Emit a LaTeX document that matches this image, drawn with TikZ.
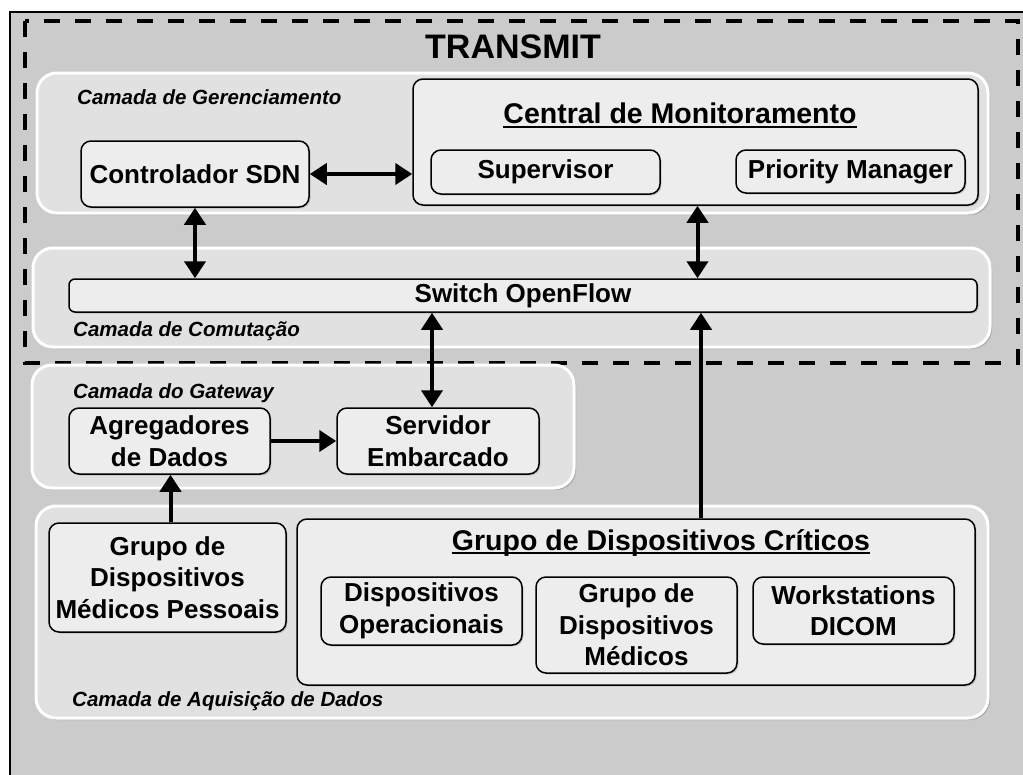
\documentclass[tikz,border=0pt]{standalone}
\usepackage{fontspec}
\setmainfont{Liberation Sans}
\usetikzlibrary{arrows.meta,shadows,calc}
\definecolor{bgc}{HTML}{CBCBCB}
\definecolor{layc}{HTML}{E1E1E1}
\definecolor{boxc}{HTML}{EDEDED}
\newcommand\bxf{\fontsize{26}{31.5}\selectfont\bfseries}
\newcommand\ttlf{\fontsize{28.5}{33}\selectfont\bfseries}
\newcommand\layf{\fontsize{20.5}{24}\selectfont\bfseries\itshape}
\begin{document}
\begin{tikzpicture}[x=1pt,y=-1pt,
  layer/.style={draw=white,line width=3pt,fill=layc,rounded corners=20pt,inner sep=0pt,
    drop shadow={shadow xshift=2pt,shadow yshift=-2pt,opacity=0.35,fill=black!60}},
  box/.style={draw=black,line width=1.5pt,fill=boxc,rounded corners=10pt,inner sep=0pt,
    align=center,font=\bxf,
    drop shadow={shadow xshift=1.5pt,shadow yshift=-1.5pt,opacity=0.25,fill=black!60}},
  laylabel/.style={anchor=west,inner sep=0pt,font=\layf},
  ttl/.style={inner sep=0pt,font=\ttlf,anchor=base},
  biarr/.style={line width=4pt,{Triangle[length=17pt,width=21pt]}-{Triangle[length=17pt,width=21pt]}},
  onearr/.style={line width=4pt,-{Triangle[length=17pt,width=21pt]}},
  dashframe/.style={line width=4pt,dash pattern=on 16pt off 15pt}]
\useasboundingbox (0,0) rectangle (1023,774);
\clip (0,0) rectangle (1023,774);
\fill[white] (0,0) rectangle (1023,774);
% outer frame
\draw[line width=2pt,fill=bgc] (10,12) rectangle (1040,790);
% dashed TRANSMIT frame
\draw[dashframe] (25,21) rectangle (1018,363);
\node[inner sep=0pt,font=\fontsize{34}{40}\selectfont\bfseries] (transmit) at (513,47) {TRANSMIT};

% layers
\node[layer,minimum width=951pt,minimum height=140pt] (lger) at (512.5,143) {};
\node[layer,minimum width=957pt,minimum height=99pt] (lcom) at (511.5,297.5) {};
\node[layer,minimum width=542pt,minimum height=123pt] (lgat) at (303,426.5) {};
\node[layer,minimum width=952pt,minimum height=212pt] (laq) at (512,612) {};

\node[laylabel] (tger) at (77,97) {Camada de Gerenciamento};
\node[laylabel] (tcom) at (73,331) {Camada de Comutação};
\node[laylabel] (tgat) at (73,393) {Camada do Gateway};
\node[laylabel] (taq) at (72,701) {Camada de Aquisição de Dados};

% management layer
\node[box,minimum width=228pt,minimum height=66pt] (ctrl) at (195,174) {Controlador SDN};
\node[box,minimum width=565pt,minimum height=126pt] (central) at (695.5,142) {};
\node[ttl] (tcentral) at (680,123.5) {Central de Monitoramento};
\draw[line width=1.8pt] ([yshift=-3.5pt]tcentral.base west) -- ([yshift=-3.5pt]tcentral.base east);
\node[box,minimum width=229pt,minimum height=44pt] (sup) at (545.5,172) {Supervisor};
\node[box,minimum width=229pt,minimum height=43pt] (prio) at (850.5,171.5) {Priority Manager};

% switching layer
\node[box,rounded corners=6pt,minimum width=908pt,minimum height=33pt] (switch) at (523,295.5) {Switch OpenFlow};

% gateway layer
\node[box,minimum width=201pt,minimum height=66pt] (agg) at (169.5,441) {Agregadores\\de Dados};
\node[box,minimum width=202pt,minimum height=66pt] (serv) at (438,441) {Servidor\\Embarcado};

% acquisition layer
\node[box,minimum width=237pt,minimum height=109pt] (pers) at (167.5,577.5) {Grupo de\\Dispositivos\\Médicos Pessoais};
\node[box,minimum width=678pt,minimum height=166pt] (crit) at (636,602) {};
\node[ttl] (tcrit) at (661,550) {Grupo de Dispositivos Críticos};
\draw[line width=1.8pt] ([yshift=-3pt]tcrit.base west) -- ([yshift=-3pt]tcrit.base east);
\node[box,minimum width=201pt,minimum height=68pt] (ops) at (421.5,611) {Dispositivos\\Operacionais};
\node[box,minimum width=201pt,minimum height=96pt] (med) at (636.5,625) {Grupo de\\Dispositivos\\Médicos};
\node[box,minimum width=201pt,minimum height=67pt] (ws) at (853.5,610.5) {Workstations\\DICOM};

% connectors
\draw[biarr] (ctrl.east) -- (ctrl.east -| central.west);
\draw[biarr] (ctrl.south) -- (ctrl.south |- switch.north);
\draw[biarr] ([xshift=2pt]central.south) -- ([xshift=2pt]central.south |- switch.north);
\draw[biarr] ([xshift=-6pt]serv.north) -- ([xshift=-6pt]serv.north |- switch.south);
\draw[onearr] (agg.east) -- (serv.west);
\draw[onearr] ([xshift=3pt]pers.north) -- ([xshift=3pt]pers.north |- agg.south);
\draw[onearr] ([xshift=65pt]crit.north) -- ([xshift=65pt]crit.north |- switch.south);
\end{tikzpicture}
\end{document}
